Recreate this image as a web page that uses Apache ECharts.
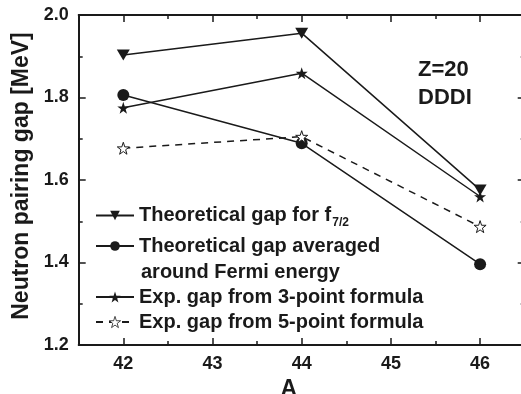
<!DOCTYPE html>
<html>
<head>
<meta charset="utf-8">
<script src="https://cdn.jsdelivr.net/npm/echarts@6/dist/echarts.min.js"></script>
<style>
html,body{margin:0;padding:0;background:#fff;}
#chart{width:521px;height:394px;}
</style>
</head>
<body>
<div id="chart"></div>
<script>
// ---- data ----
const massNumbers = [42, 44, 46];
const gapF72 = [1.903, 1.956, 1.576];
const gapAveraged = [1.806, 1.689, 1.396];
const gapExp3 = [1.775, 1.859, 1.560];
const gapExp5 = [1.677, 1.705, 1.487];
const seriesNames = [
  'Theoretical gap for f7/2',
  'Theoretical gap averaged',
  'Exp. gap from 3-point formula',
  'Exp. gap from 5-point formula'
];
const yTicks = [1.2, 1.4, 1.6, 1.8, 2.0];
const xTicks = [42, 43, 44, 45, 46];

const STAR = 'path://M50,0 L61.8,35.1 L98.1,35.1 L68.8,56.8 L79.4,90.5 L50,70 L20.6,90.5 L31.2,56.8 L1.9,35.1 L38.2,35.1 Z';
const INK = '#1a1a1a';
const FONT = '"Liberation Sans", Arial, sans-serif';

function pairs(ys){ return massNumbers.map((x,i)=>[x, ys[i]]); }

const chart = echarts.init(document.getElementById('chart'), null, {renderer:'canvas'});

const xCommon = {
  type:'value', min:41.5, max:46.5, gridIndex:0,
  splitLine:{show:false}
};
const axisLineStyle = {show:true, lineStyle:{color:INK, width:2}};
const legendText = {color:INK, fontSize:20, fontWeight:'bold', fontFamily:FONT, lineHeight:25};

const option = {
  backgroundColor:'#fff',
  animation:false,
  textStyle:{fontFamily:FONT},
  grid:{left:78.7, top:15, width:446, height:330, containLabel:false, outerBoundsMode:'none'},
  xAxis:[
    Object.assign({}, xCommon, {
      position:'bottom', splitNumber:5, minInterval:1, maxInterval:1,
      axisLine:axisLineStyle,
      axisTick:{show:true, inside:true, length:7, lineStyle:{color:INK, width:1.5}},
      axisLabel:{show:true, showMinLabel:false, showMaxLabel:false, margin:10,
        color:INK, fontSize:18, fontWeight:'bold', fontFamily:FONT,
        formatter:v=> xTicks.indexOf(v) >= 0 ? String(v) : ''},
      name:'A', nameLocation:'middle', nameGap:21,
      nameTextStyle:{color:INK, fontSize:23, fontWeight:'bold', fontFamily:FONT, padding:[0,26,0,0]}
    }),
    Object.assign({}, xCommon, {
      position:'bottom', interval:0.5,
      axisLine:{show:false},
      axisTick:{show:true, inside:true, length:4, lineStyle:{color:INK, width:1.5}},
      axisLabel:{show:false}
    }),
    Object.assign({}, xCommon, {
      position:'top', splitNumber:5, minInterval:1, maxInterval:1,
      axisLine:axisLineStyle,
      axisTick:{show:true, inside:true, length:7, lineStyle:{color:INK, width:1.5}},
      axisLabel:{show:false}
    }),
    Object.assign({}, xCommon, {
      position:'top', interval:0.5,
      axisLine:{show:false},
      axisTick:{show:true, inside:true, length:4, lineStyle:{color:INK, width:1.5}},
      axisLabel:{show:false}
    })
  ],
  yAxis:[
    {
      type:'value', min:1.2, max:2.0, interval:0.2, position:'left',
      splitLine:{show:false},
      axisLine:axisLineStyle,
      axisTick:{show:true, inside:true, length:7, lineStyle:{color:INK, width:1.5}},
      minorTick:{show:true, splitNumber:2, length:4, lineStyle:{color:INK, width:1.5}},
      axisLabel:{margin:10, color:INK, fontSize:18, fontWeight:'bold', fontFamily:FONT,
        formatter:v=>{ const t = yTicks.find(k=>Math.abs(k-v)<1e-6); return t===undefined?'':t.toFixed(1);} },
      name:'Neutron pairing gap [MeV]', nameLocation:'middle', nameGap:45, nameRotate:90,
      nameTextStyle:{color:INK, fontSize:23, fontWeight:'bold', fontFamily:FONT, padding:[0,0,0,8]}
    },
    {
      type:'value', min:1.2, max:2.0, interval:0.2, position:'right',
      splitLine:{show:false},
      axisLine:axisLineStyle,
      axisTick:{show:true, inside:true, length:7, lineStyle:{color:INK, width:1.5}},
      minorTick:{show:true, splitNumber:2, length:4, lineStyle:{color:INK, width:1.5}},
      axisLabel:{show:false}
    }
  ],
  legend:[
    {
      data:[
        {name:seriesNames[0], itemStyle:{borderWidth:0}},
        {name:seriesNames[1], itemStyle:{borderWidth:0}}
      ],
      orient:'vertical', left:95, top:202.5, itemGap:5, padding:0,
      itemWidth:38, itemHeight:12,
      textStyle:Object.assign({}, legendText, {
        rich:{
          m:Object.assign({}, legendText),
          s:{color:INK, fontSize:12, fontWeight:'bold', fontFamily:FONT, lineHeight:25, padding:[14,0,0,1]}
        }}),
      formatter:n=> n===seriesNames[0] ? '{m|Theoretical gap for f}{s|7/2}' : '{m|'+n+'}',
      selectedMode:false
    },
    {
      data:[
        {name:seriesNames[2], itemStyle:{borderWidth:0}},
        {name:seriesNames[3], itemStyle:{color:'#fff', borderColor:INK, borderWidth:0.8}}
      ],
      orient:'vertical', left:95, top:284.5, itemGap:0, padding:0,
      itemWidth:38, itemHeight:14,
      textStyle:legendText,
      selectedMode:false
    }
  ],
  graphic:[
    {type:'text', left:141, top:262, style:{text:'around Fermi energy', fill:INK,
      font:'bold 20px "Liberation Sans", Arial, sans-serif'}},
    {type:'text', left:418, top:56, style:{text:'Z=20\nDDDI', fill:INK, lineHeight:28,
      font:'bold 22px "Liberation Sans", Arial, sans-serif'}}
  ],
  series:[
    {name:seriesNames[0], type:'line', data:pairs(gapF72), xAxisIndex:0, yAxisIndex:0,
      symbol:'triangle', symbolRotate:180, symbolSize:[13,11],
      lineStyle:{color:INK, width:1.5}, itemStyle:{color:INK}},
    {name:seriesNames[1], type:'line', data:pairs(gapAveraged), xAxisIndex:0, yAxisIndex:0,
      symbol:'circle', symbolSize:12,
      lineStyle:{color:INK, width:1.5}, itemStyle:{color:INK}},
    {name:seriesNames[2], type:'line', data:pairs(gapExp3), xAxisIndex:0, yAxisIndex:0,
      symbol:STAR, symbolSize:12,
      lineStyle:{color:INK, width:1.5}, itemStyle:{color:INK}},
    {name:seriesNames[3], type:'line', data:pairs(gapExp5), xAxisIndex:0, yAxisIndex:0,
      symbol:STAR, symbolSize:12,
      lineStyle:{color:INK, width:1.5, type:[7,6]}, itemStyle:{color:'#fff', borderColor:INK, borderWidth:1}}
  ]
};
chart.setOption(option);
</script>
</body>
</html>
